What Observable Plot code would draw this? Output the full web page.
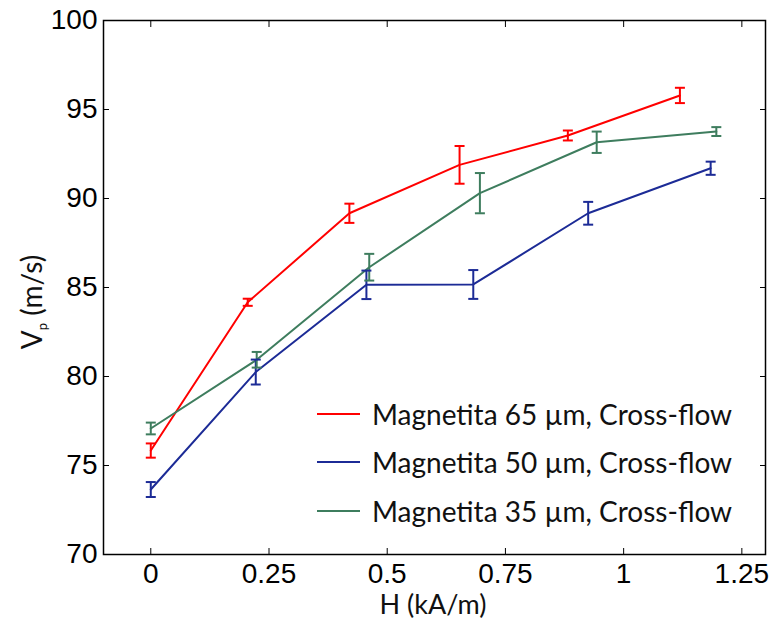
<!DOCTYPE html>
<html><head><meta charset="utf-8">
<script src="https://cdn.jsdelivr.net/npm/d3@7"></script>
<script src="https://cdn.jsdelivr.net/npm/@observablehq/plot@0.6"></script>
<style>
body{margin:0;background:#fff}
#wrap{position:relative;width:772px;height:621px}
.leg{position:absolute;left:317px;font-family:Lato,sans-serif;font-size:28px;color:#111;display:flex;align-items:center;white-space:nowrap;height:40px}
.leg svg{margin-right:12px}
</style>
</head><body><div id="wrap"></div>
<script>
const seriesNames = ["Magnetita 65 µm, Cross-flow", "Magnetita 50 µm, Cross-flow", "Magnetita 35 µm, Cross-flow"];
const seriesColors = ["#ff0000", "#1c2b96", "#3e7d5e"];
const h65 = [0, 0.205, 0.42, 0.653, 0.882, 1.119];
const v65 = [75.84, 84.17, 89.17, 91.89, 93.54, 95.79];
const e65 = [0.4, 0.2, 0.54, 1.06, 0.28, 0.43];
const h50 = [0, 0.222, 0.456, 0.682, 0.925, 1.184];
const v50 = [73.65, 80.25, 85.15, 85.17, 89.17, 91.70];
const e50 = [0.42, 0.7, 0.8, 0.81, 0.64, 0.37];
const h35 = [0, 0.224, 0.462, 0.696, 0.943, 1.196];
const v35 = [77.08, 80.94, 86.14, 90.3, 93.16, 93.76];
const e35 = [0.33, 0.44, 0.75, 1.13, 0.6, 0.25];
const xTicks = [0, 0.25, 0.5, 0.75, 1, 1.25];
const xTickLabels = ["0", "0.25", "0.5", "0.75", "1", "1.25"];
const yTicks = [70, 75, 80, 85, 90, 95, 100];

const rows = [];
[[h65, v65, e65], [h50, v50, e50], [h35, v35, e35]].forEach(([h, v, e], i) => {
  h.forEach((x, j) => rows.push({s: seriesNames[i], H: x, V: v[j], e: e[j]}));
});

const hline = {draw(ctx, size) { const r = Math.sqrt(size / Math.PI); ctx.moveTo(-r, 0); ctx.lineTo(r, 0); }};
const xfmt = d => xTickLabels[xTicks.indexOf(d)] ?? String(d);

const plot = Plot.plot({
  width: 772, height: 621,
  marginLeft: 103, marginRight: 7, marginTop: 20, marginBottom: 67,
  x: {domain: [-0.1, 1.3]},
  y: {domain: [70, 100]},
  color: {domain: seriesNames, range: seriesColors},
  style: {fontFamily: "'Liberation Sans', Arial, sans-serif", fontSize: "28px", color: "#000", background: "#fff", overflow: "visible"},
  marks: [
    Plot.axisX({ticks: xTicks, tickSize: -6, fill: "none", label: null}),
    Plot.axisX({anchor: "top", ticks: xTicks, tickSize: -6, fill: "none", label: null}),
    Plot.axisY({ticks: yTicks, tickSize: -6, fill: "none", label: null}),
    Plot.axisY({anchor: "right", ticks: yTicks, tickSize: -6, fill: "none", label: null}),
    Plot.axisX({ticks: xTicks, tickSize: 0, tickPadding: 9, tickFormat: xfmt, label: null}),
    Plot.axisY({ticks: yTicks, tickSize: 0, tickPadding: 6, label: null}),
    Plot.frame({stroke: "#000", strokeWidth: 1.5}),
    Plot.line(rows, {x: "H", y: "V", z: "s", stroke: "s", strokeWidth: 2}),
    Plot.ruleX(rows, {x: "H", y1: d => d.V - d.e, y2: d => d.V + d.e, stroke: "s", strokeWidth: 2}),
    Plot.dot(rows, {x: "H", y: d => d.V + d.e, symbol: hline, r: 5, stroke: "s", strokeWidth: 2}),
    Plot.dot(rows, {x: "H", y: d => d.V - d.e, symbol: hline, r: 5, stroke: "s", strokeWidth: 2})
  ]
});

const svg = d3.select(plot);
svg.append("text")
  .attr("x", 433).attr("y", 614)
  .attr("text-anchor", "middle")
  .style("font-family", "Lato, sans-serif").style("font-size", "27px").attr("fill", "#111")
  .text("H (kA/m)");
const yl = svg.append("text")
  .attr("transform", "translate(42,302) rotate(-90)")
  .attr("text-anchor", "middle")
  .style("font-family", "Lato, sans-serif").style("font-size", "28px").attr("fill", "#111");
yl.append("tspan").text("V");
yl.append("tspan").attr("dy", 5).style("font-size", "13px").text("p");
yl.append("tspan").attr("dy", -5).text(" (m/s)");

const wrap = document.getElementById("wrap");
wrap.appendChild(plot);
const legY = [414, 462, 511];
seriesNames.forEach((n, i) => {
  const d = document.createElement("div");
  d.className = "leg";
  d.style.top = (legY[i] - 20) + "px";
  d.innerHTML = `<svg width="43" height="4"><line x1="0" y1="2" x2="43" y2="2" stroke="${seriesColors[i]}" stroke-width="2"/></svg><span>${n}</span>`;
  wrap.appendChild(d);
});
</script>
</body></html>
